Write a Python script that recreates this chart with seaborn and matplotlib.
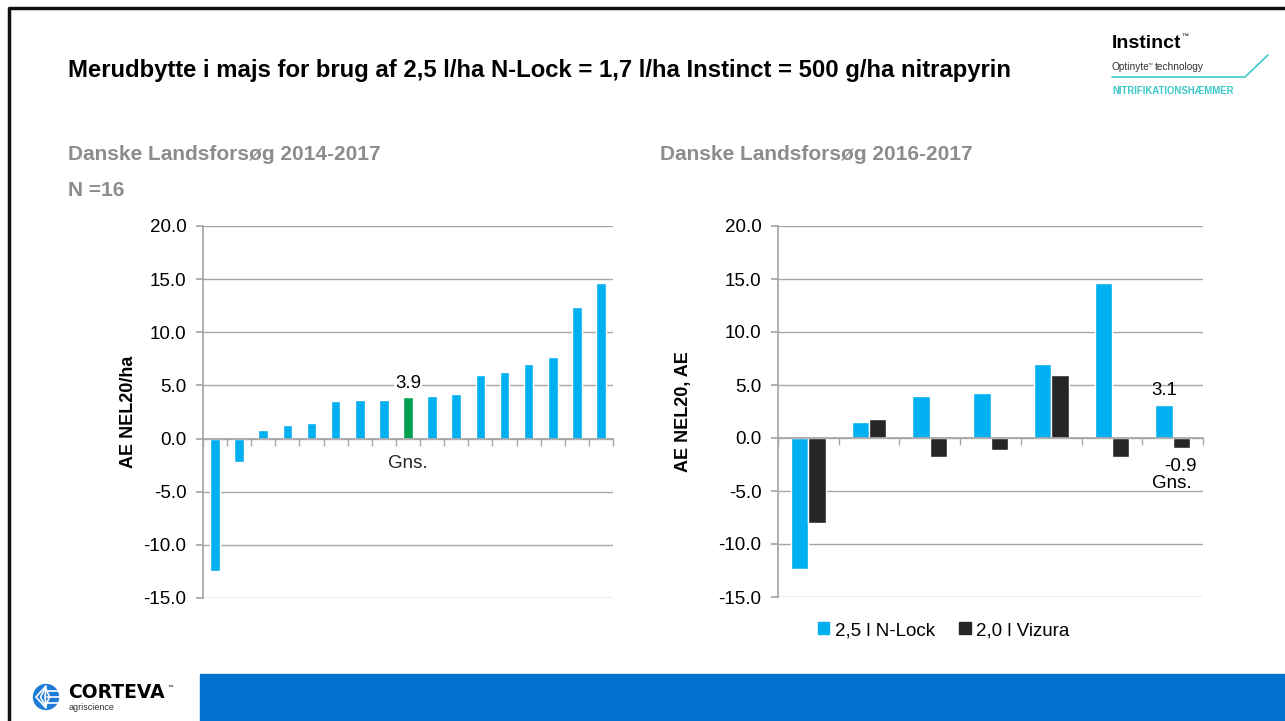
import matplotlib
matplotlib.use('Agg')
import matplotlib.pyplot as plt
import matplotlib.patches as mpatches
import seaborn as sns
import pandas as pd
import numpy as np

# ── DATA ─────────────────────────────────────────────────────────────────────
left_values = [-12.5, -2.2, 0.8, 1.3, 1.5, 3.5, 3.6, 3.6, 3.9, 4.0, 4.2,
               6.0, 6.3, 7.0, 7.7, 12.4, 14.6]
left_labels = ["", "", "", "", "", "", "", "", "Gns.", "", "", "", "", "", "", "", ""]
mean_index = 8

right_groups = ["1", "2", "3", "4", "5", "6", "Gns."]
nlock_values = [-12.4, 1.5, 4.0, 4.2, 7.0, 14.6, 3.1]
vizura_values = [-8.0, 1.8, -1.8, -1.1, 5.9, -1.8, -0.9]
series_names = ["2,5 l N-Lock", "2,0 l Vizura"]

yticks = [-15, -10, -5, 0, 5, 10, 15, 20]

BLUE = "#00B0F0"
GREEN = "#00A050"
DARK = "#262626"
GRID = "#A6A6A6"
SUBGRAY = "#8C8C8C"
TEAL = "#3CC8C8"

sns.set_theme(style="white")
plt.rcParams['font.family'] = ['Liberation Sans', 'DejaVu Sans']
plt.rcParams['text.color'] = "black"
plt.rcParams['axes.labelcolor'] = "black"

W, H = 1285, 721
fig = plt.figure(figsize=(W / 100, H / 100), dpi=100)


def px_axes(x0, y0, x1, y1):
    return fig.add_axes([x0 / W, 1 - y1 / H, (x1 - x0) / W, (y1 - y0) / H])


def style_axis(ax, n):
    ax.set_ylim(-15, 20)
    ax.set_yticks(yticks)
    ax.set_yticklabels([f"{v:.1f}" for v in yticks], fontsize=13.5, color="black")
    ax.set_xlim(-0.5, n - 0.5)
    ax.grid(axis="y", color=GRID, linewidth=1)
    ax.set_axisbelow(True)
    for s in ["top", "right"]:
        ax.spines[s].set_visible(False)
    ax.spines["left"].set_color(GRID)
    ax.spines["bottom"].set_color(GRID)
    ax.spines["bottom"].set_position(("data", 0))
    ax.tick_params(axis="y", length=5, color=GRID, pad=7, left=True)
    ax.set_xticks(np.arange(-0.5, n, 1.0), minor=True)
    ax.tick_params(axis="x", which="minor", length=5, color=GRID, bottom=True)
    ax.tick_params(axis="x", which="major", length=0, pad=12, labelsize=13.5)
    ax.set_xlabel("")


# ── LEFT CHART ───────────────────────────────────────────────────────────────
ax1 = px_axes(203, 226, 613, 598)
df_left = pd.DataFrame({"pos": [str(i) for i in range(len(left_values))],
                        "value": left_values})
pal_left = {str(i): (GREEN if i == mean_index else BLUE) for i in range(len(left_values))}
sns.barplot(data=df_left, x="pos", y="value", hue="pos", palette=pal_left,
            legend=False, width=0.4, saturation=1, ax=ax1)
style_axis(ax1, len(left_values))
ax1.set_xticks(range(len(left_values)))
ax1.set_xticklabels(left_labels)
ax1.set_ylabel("AE NEL20/ha", fontsize=13, fontweight="bold")
ax1.yaxis.set_label_coords(-0.161, 0.5)
ax1.text(mean_index, left_values[mean_index] + 0.5, f"{left_values[mean_index]:.1f}",
         ha="center", va="bottom", fontsize=13.5,
         bbox=dict(facecolor="white", edgecolor="none", pad=1))

# ── RIGHT CHART ──────────────────────────────────────────────────────────────
ax2 = px_axes(778, 226, 1203, 597)
df_right = pd.DataFrame({
    "group": right_groups * 2,
    "series": [series_names[0]] * len(right_groups) + [series_names[1]] * len(right_groups),
    "value": nlock_values + vizura_values,
})
sns.barplot(data=df_right, x="group", y="value", hue="series",
            palette=[BLUE, DARK], width=0.57, saturation=1, ax=ax2)
style_axis(ax2, len(right_groups))
ax2.set_xticks(range(len(right_groups)))
ax2.set_xticklabels([""] * len(right_groups))
ax2.set_ylabel("AE NEL20, AE", fontsize=13, fontweight="bold")
ax2.yaxis.set_label_coords(-0.202, 0.5)
last = len(right_groups) - 1
ax2.text(last - 0.14, nlock_values[-1] + 0.6, f"{nlock_values[-1]:.1f}",
         ha="center", va="bottom", fontsize=13.5)
ax2.text(last + 0.13, vizura_values[-1] - 1.0, f"{vizura_values[-1]:.1f}",
         ha="center", va="top", fontsize=13.5)
ax2.text(last - 0.02, vizura_values[-1] - 2.6, "Gns.",
         ha="center", va="top", fontsize=13.5)
handles = [mpatches.Patch(color=BLUE, label=series_names[0]),
           mpatches.Patch(color=DARK, label=series_names[1])]
ax2.legend(handles=handles, loc="upper center", bbox_to_anchor=(0.39, -0.022),
           ncol=2, frameon=False, fontsize=13.5, handlelength=0.6, handleheight=0.6,
           handletextpad=0.3, columnspacing=1.3)

# ── SLIDE DECORATION (pixel coords overlay) ──────────────────────────────────
deco = fig.add_axes([0, 0, 1, 1], zorder=-1)
deco.set_xlim(0, W)
deco.set_ylim(H, 0)
deco.axis("off")

deco.text(68, 71,
          "Merudbytte i majs for brug af 2,5 l/ha N-Lock = 1,7 l/ha Instinct = 500 g/ha nitrapyrin",
          fontsize=17.2, fontweight="bold", va="center", ha="left")
deco.text(68, 155, "Danske Landsforsøg 2014-2017", fontsize=15,
          fontweight="bold", color=SUBGRAY, va="center")
deco.text(68, 191, "N =16", fontsize=15,
          fontweight="bold", color=SUBGRAY, va="center")
deco.text(660, 155, "Danske Landsforsøg 2016-2017", fontsize=15,
          fontweight="bold", color=SUBGRAY, va="center")

# Instinct logo
deco.text(1112, 44, "Instinct", fontsize=14, fontweight="bold", va="center")
deco.text(1181, 36, "™", fontsize=5, va="center")
deco.text(1112, 67, "Optinyte", fontsize=7.3, va="center", color="#333333")
deco.text(1148, 64, "™", fontsize=3.5, va="center", color="#333333")
deco.text(1155, 67, "technology", fontsize=7.3, va="center", color="#333333")
deco.plot([1112, 1245, 1268], [77, 77, 55], color=TEAL, linewidth=1.2)
deco.text(1112, 91, "NITRIFIKATIONSHÆMMER", fontsize=6.9, fontweight="bold",
          va="center", color=TEAL)

# bottom band + Corteva
deco.add_patch(mpatches.Rectangle((200, 674), W - 200, H - 674, color="#0072CE"))
deco.add_patch(mpatches.Circle((46, 697), 12.5, color="#1E7BD6"))
for k in range(4):
    deco.plot([46, 36 + k * 4.5, 46], [686 + k * 1.0, 697, 708 - k * 1.0],
              color="white", linewidth=1.2)
for k in range(3):
    deco.plot([47, 59], [691 + k * 6, 691 + k * 6], color="white", linewidth=1.2)
deco.text(68, 693, "CORTEVA", fontsize=13.5, fontweight="bold", va="center",
          family="DejaVu Sans")
deco.text(168, 687, "™", fontsize=4, va="center")
deco.text(69, 708, "agriscience", fontsize=6.5, va="center", color="#333333")

# slide border (top and left)
deco.plot([9, 9, W], [H, 8, 8], color="#111111", linewidth=2.5)

fig.savefig("out.png", dpi=100)
